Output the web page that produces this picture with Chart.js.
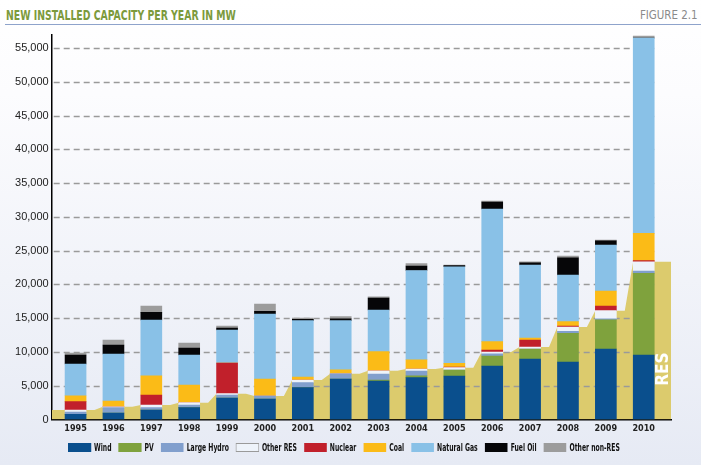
<!DOCTYPE html>
<html>
<head>
<meta charset="utf-8">
<script src="https://cdn.jsdelivr.net/npm/chart.js@4.4.1/dist/chart.umd.min.js"></script>
<style>
  html, body { margin: 0; padding: 0; }
  body {
    width: 701px; height: 465px; position: relative; overflow: hidden;
    background: linear-gradient(to bottom, #ffffff 0%, #fcfcfe 20%, #e6eaf4 100%);
    font-family: 'DejaVu Sans Condensed', 'Liberation Sans', sans-serif;
  }
  #title { position: absolute; left: 6px; top: 7px; font-weight: bold; font-size: 14px; color: #7c9a3c;
           transform: scaleX(0.74); transform-origin: left top; white-space: nowrap; }
  #fig { position: absolute; right: 3px; top: 7px; font-size: 13px; color: #8a8a8a;
         transform: scaleX(0.88); transform-origin: right top; white-space: nowrap; }
  #rule { position: absolute; left: 5px; right: 0; top: 24px; border-top: 1.5px solid #8ea3cb; }
  canvas { position: absolute; left: 0; top: 0; }
  #legend { position: absolute; left: 68px; top: 441px; white-space: nowrap; transform-origin: left top;
            font-weight: bold; font-size: 10.5px; color: #111; line-height: 11px; }
  #legend span { display: inline-block; vertical-align: middle; }
  #legend .box { height: 9px; box-sizing: border-box; }
</style>
</head>
<body>
<div id="title">NEW INSTALLED CAPACITY PER YEAR IN MW</div>
<div id="fig">FIGURE 2.1</div>
<div id="rule"></div>
<canvas id="graph1" width="701" height="465" style="width:701px;height:465px"></canvas>
<div id="legend"></div>
<script>
// new installed capacity, MW
var years = ['1995', '1996', '1997', '1998', '1999', '2000', '2001', '2002',
             '2003', '2004', '2005', '2006', '2007', '2008', '2009', '2010'];
var wind        = [770, 960, 1410, 1750, 3180, 3030, 4710, 6000, 5700, 6190, 6440, 7920, 8960, 8510, 10440, 9550];
var pv          = [0, 0, 0, 0, 0, 0, 0, 0, 150, 290, 890, 1480, 1480, 4250, 4330, 12090];
var largeHydro  = [340, 790, 340, 400, 450, 450, 740, 780, 890, 700, 0, 340, 0, 300, 150, 340];
var otherRes    = [300, 140, 400, 340, 190, 0, 400, 0, 480, 300, 340, 250, 290, 630, 1190, 1380];
var nuclear     = [1230, 0, 1480, 0, 4540, 0, 0, 0, 0, 0, 100, 300, 1040, 150, 690, 150];
var coal        = [880, 850, 2850, 2620, 0, 2510, 440, 590, 2820, 1370, 550, 1230, 290, 640, 2220, 4050];
var naturalGas  = [4700, 6960, 8250, 4440, 4890, 9630, 8340, 7260, 6170, 13210, 14300, 19640, 10810, 6910, 6810, 28920];
var fuelOil     = [1330, 1330, 1140, 1030, 300, 400, 200, 290, 1780, 660, 150, 1040, 340, 2560, 640, 0];
var otherNonRes = [290, 740, 930, 750, 290, 1080, 200, 300, 190, 370, 100, 150, 150, 250, 100, 290];
// RES total per year (the khaki area behind the bars)
var resTotal    = [1410, 1890, 2150, 2490, 3820, 3480, 5850, 6780, 7220, 7480, 7670, 9990, 10730, 13690, 16110, 23360];
var yTicks = [0, 5000, 10000, 15000, 20000, 25000, 30000, 35000, 40000, 45000, 50000, 55000];

var series = [
    {label: 'Wind', data: wind, color: '#0a4f8d'},
    {label: 'PV', data: pv, color: '#7fa23d'},
    {label: 'Large Hydro', data: largeHydro, color: '#819fcd'},
    {label: 'Other RES', data: otherRes, color: '#eef3fa'},
    {label: 'Nuclear', data: nuclear, color: '#c1202b'},
    {label: 'Coal', data: coal, color: '#fbbb17'},
    {label: 'Natural Gas', data: naturalGas, color: '#89c1e7'},
    {label: 'Fuel Oil', data: fuelOil, color: '#060608'},
    {label: 'Other non-RES', data: otherNonRes, color: '#9c9c9c'}
];

var xMin = -0.63, xMax = 15.72;
var barW = 21;
var condensed = "'DejaVu Sans Condensed', 'Liberation Sans', sans-serif";

var datasets = [];
series.forEach(function (s) {
    datasets.push({
        label: s.label,
        data: s.data.map(function (v, i) { return {x: i, y: v}; }),
        backgroundColor: s.color,
        borderWidth: 0,
        barThickness: barW,
        stack: 'all',
        order: 0
    });
});

// area: flat behind each bar, short slope just before the next bar
var resPts = [{x: xMin, y: resTotal[0]}];
resTotal.forEach(function (v, i) {
    resPts.push({x: i - 0.28, y: v});
    resPts.push({x: i + 0.5, y: v});
});
resPts.push({x: xMax, y: resTotal[resTotal.length - 1]});
datasets.push({
    type: 'line',
    label: 'RES',
    data: resPts,
    backgroundColor: '#dccb6d',
    borderWidth: 0,
    pointRadius: 0,
    fill: 'origin',
    tension: 0,
    stack: 'res',
    order: 1
});
var areaIndex = datasets.length - 1;

// dashed grid drawn over the area, under the bars
var gridOverArea = {
    id: 'gridOverArea',
    afterDatasetDraw: function (chart, args) {
        if (args.index !== areaIndex) return;
        var ctx = chart.ctx, y = chart.scales.y, x = chart.scales.x;
        var right = x.getPixelForValue(years.length - 1) + barW / 2;
        ctx.save();
        ctx.strokeStyle = '#9a9a9a';
        ctx.lineWidth = 1.5;
        ctx.setLineDash([6, 4]);
        yTicks.forEach(function (t) {
            if (t === 0) return;
            var py = Math.round(y.getPixelForValue(t)) + 0.5;
            ctx.beginPath();
            ctx.moveTo(chart.chartArea.left + 2, py);
            ctx.lineTo(right, py);
            ctx.stroke();
        });
        ctx.restore();
    }
};

var resLabel = {
    id: 'resLabel',
    afterDatasetsDraw: function (chart) {
        var ctx = chart.ctx, x = chart.scales.x, y = chart.scales.y;
        var cx = (x.getPixelForValue(years.length - 1) + barW / 2 + chart.chartArea.right) / 2;
        ctx.save();
        ctx.translate(cx + 1, y.getPixelForValue(5000));
        ctx.rotate(-Math.PI / 2);
        ctx.fillStyle = '#ffffff';
        ctx.font = 'bold 17px ' + condensed;
        ctx.textAlign = 'left';
        ctx.textBaseline = 'middle';
        ctx.fillText('RES', 0, 0);
        ctx.restore();
    }
};

var ctx = document.getElementById('graph1').getContext('2d');
var graph1 = new Chart(ctx, {
    type: 'bar',
    data: {datasets: datasets},
    options: {
        responsive: false,
        animation: false,
        layout: {padding: {left: 0, right: 30, top: 34.5, bottom: 29.5}},
        scales: {
            x: {
                type: 'linear', min: xMin, max: xMax, stacked: true, offset: false,
                grid: {display: false, drawTicks: false},
                border: {color: '#000', width: 1.5},
                afterBuildTicks: function (s) {
                    s.ticks = years.map(function (yr, i) { return {value: i}; });
                },
                afterFit: function (s) { s.height = 16; },
                ticks: {
                    autoSkip: false, maxRotation: 0, padding: 4, color: '#222',
                    font: {family: condensed, weight: 'bold', size: 9},
                    callback: function (v) { return years[v] || ''; }
                }
            },
            y: {
                min: 0, max: 57000, stacked: true,
                grid: {display: false, drawTicks: false},
                border: {color: '#000', width: 1.5},
                afterBuildTicks: function (s) {
                    s.ticks = yTicks.map(function (t) { return {value: t}; });
                },
                afterFit: function (s) { s.width = 51.7; },
                ticks: {
                    padding: 3, color: '#222',
                    font: {family: "'Liberation Sans', Arial, sans-serif", size: 11},
                    callback: function (v) { return v.toLocaleString('en-US'); }
                }
            }
        },
        plugins: {
            tooltip: {enabled: false},
            legend: {display: false}
        }
    },
    plugins: [gridOverArea, resLabel]
});

// html legend, text squeezed to the narrow face of the original
var legend = document.getElementById('legend');
var texts = [];
series.forEach(function (s) {
    var box = document.createElement('span');
    box.className = 'box';
    box.style.background = s.color;
    if (s.label === 'Other RES') box.style.border = '1px solid #9a9a9a';
    var txt = document.createElement('span');
    txt.textContent = s.label;
    legend.appendChild(box);
    legend.appendChild(txt);
    texts.push({box: box, txt: txt});
});
var textW = 0;
texts.forEach(function (t) { textW += t.txt.getBoundingClientRect().width; });
var sx = (552 - 9 * 23 - 9 * 3 - 8 * 7) / textW;
legend.style.transform = 'scaleX(' + sx + ')';
texts.forEach(function (t, i) {
    t.box.style.width = (23 / sx) + 'px';
    t.box.style.marginRight = (3 / sx) + 'px';
    if (i < texts.length - 1) t.txt.style.marginRight = (7 / sx) + 'px';
});
</script>
</body>
</html>
